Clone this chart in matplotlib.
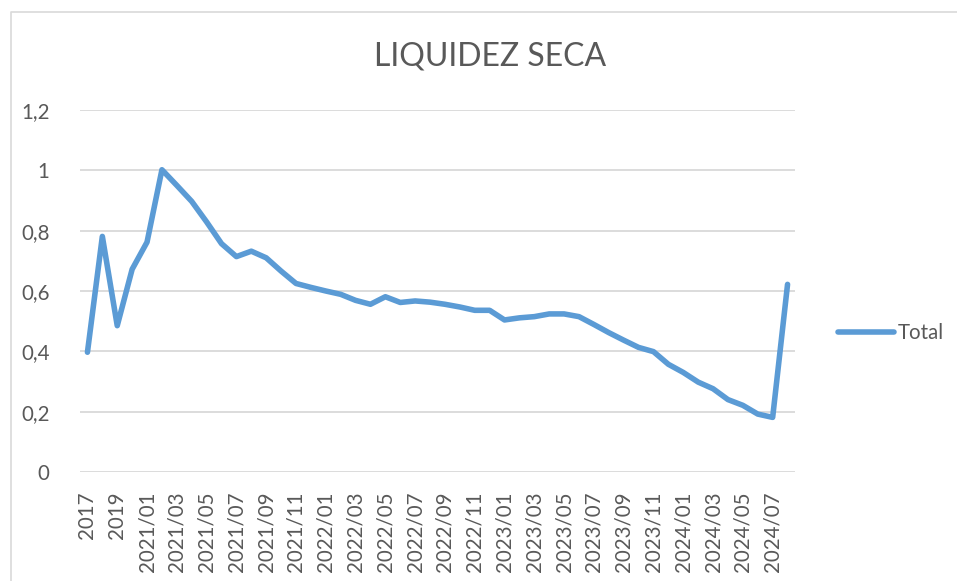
import matplotlib.pyplot as plt
from matplotlib.lines import Line2D

plt.rcParams['font.family'] = ['Lato', 'DejaVu Sans']

periodos = ['2017', '2018', '2019', '2020'] + \
    [f'{a}/{m:02d}' for a in (2021, 2022, 2023) for m in range(1, 13)] + \
    [f'2024/{m:02d}' for m in range(1, 9)]

total = [0.397, 0.781, 0.485, 0.672, 0.762, 1.002, 0.950, 0.897, 0.829, 0.757,
         0.714, 0.732, 0.710, 0.666, 0.625, 0.612, 0.600, 0.589, 0.569, 0.556,
         0.581, 0.562, 0.567, 0.563, 0.556, 0.547, 0.536, 0.536, 0.504, 0.511,
         0.515, 0.524, 0.524, 0.515, 0.489, 0.462, 0.437, 0.413, 0.399, 0.357,
         0.330, 0.298, 0.276, 0.240, 0.221, 0.192, 0.181, 0.622]

gris = '#595959'

fig = plt.figure(figsize=(9.57, 5.81), dpi=100)
ax = fig.add_axes([80 / 957, 1 - 472 / 581, 715 / 957, 362 / 581])

x = range(len(total))
ax.plot(x, total, color='#5B9BD5', lw=4, solid_capstyle='round',
        solid_joinstyle='round', label='Total', zorder=3)

ax.set_xlim(-0.5, len(total) - 0.5)
ax.set_ylim(0, 1.2)
ax.set_yticks([0, 0.2, 0.4, 0.6, 0.8, 1.0, 1.2])
ax.set_yticklabels(['0', '0,2', '0,4', '0,6', '0,8', '1', '1,2'])
ax.set_xticks(list(x)[::2])
ax.set_xticklabels(periodos[::2], rotation=90, va='top')

ax.grid(axis='y', color='#D9D9D9', lw=1.3)
ax.set_axisbelow(True)
for s in ax.spines.values():
    s.set_visible(False)
ax.tick_params(axis='both', length=0, colors=gris, labelsize=14.8)
ax.tick_params(axis='y', pad=22)
ax.tick_params(axis='x', pad=14)

fig.text(490 / 957, 1 - 57 / 581, 'LIQUIDEZ SECA', ha='center', va='center',
         fontsize=23, color=gris)

leg = ax.legend(loc='center left', bbox_to_anchor=(830 / 957, 1 - 333 / 581),
                bbox_transform=fig.transFigure, frameon=False, fontsize=14.8,
                handlelength=2.7, handletextpad=0.2, borderaxespad=0)
for t in leg.get_texts():
    t.set_color(gris)

# borde del gráfico (solo izquierda y arriba visibles)
fig.lines.append(Line2D([10.5 / 957, 10.5 / 957, 1], [0, 1 - 12 / 581, 1 - 12 / 581],
                        transform=fig.transFigure, color='#D9D9D9', lw=1.2))

fig.savefig('out.png', dpi=100)
